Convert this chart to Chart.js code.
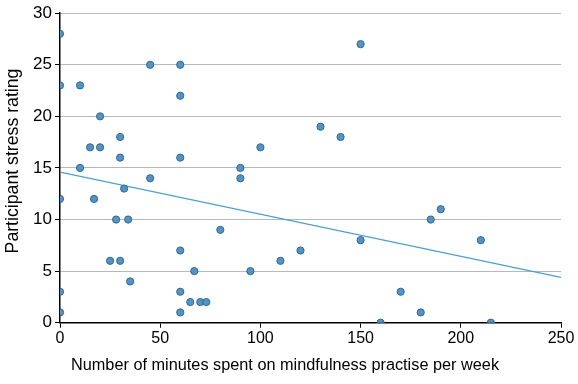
<!DOCTYPE html>
<html>
<head>
<meta charset="utf-8">
<script src="https://cdn.jsdelivr.net/npm/chart.js@4/dist/chart.umd.min.js"></script>
<style>
  html, body { margin:0; padding:0; background:#fff; }
  #wrap { width:578px; height:384px; }
</style>
</head>
<body>
<div id="wrap"><canvas id="chart" width="578" height="384"></canvas></div>
<script>
// minutes of practice per week vs stress rating
const minutes = [0,0,0,0,0, 10,10, 15,17, 20,20, 25,28,30,30,30,32,34,35, 45,45,
  60,60,60,60,60,60, 65,67,70,73, 80, 90,90, 95,100,110,120,130,140,
  150,150,160,170,180,185,190,210,215];
const stress = [28,23,12,3,1, 23,15, 17,12, 20,17, 6,10,18,16,6,13,10,4, 25,14,
  25,22,16,7,3,1, 2,5,2,2, 9, 15,14, 5,17,6,7,19,18,
  27,8,0,3,1,10,11,8,0];
// fitted line, read at the two ends of the x range
const fitX = [0, 250];
const fitY = [14.6, 4.4];

const xTicks = [0, 50, 100, 150, 200, 250];
const yTicks = [0, 5, 10, 15, 20, 25, 30];

const X_TITLE = 'Number of minutes spent on mindfulness practise per week';
const Y_TITLE = 'Participant stress rating';
const FONT = 'Arial, "Liberation Sans", sans-serif';

const pts = minutes.map((m,i)=>({x:m, y:stress[i]}));
const line = fitX.map((v,i)=>({x:v, y:fitY[i]}));

// axis titles are centred on the whole picture, not on the plot area
const titles = {
  id:'titles',
  afterDraw(chart){
    const c = chart.ctx;
    c.save();
    c.fillStyle = '#000';
    c.textAlign = 'center';
    c.textBaseline = 'middle';
    c.font = '16.3px ' + FONT;
    c.fillText(X_TITLE, 285, 366);
    c.translate(13, 161);
    c.rotate(-Math.PI/2);
    c.font = '17.7px ' + FONT;
    c.fillText(Y_TITLE, 0, 0);
    c.restore();
  }
};

new Chart(document.getElementById('chart'), {
  type:'scatter',
  data:{
    datasets:[
      {
        type:'line',
        data: line,
        borderColor:'#42a1dc',
        borderWidth:1.2,
        pointRadius:0,
        fill:false,
        order:2
      },
      {
        data: pts,
        backgroundColor:'#4a97cf',
        borderColor:'#3c6488',
        borderWidth:1,
        pointRadius:3.6,
        order:1
      }
    ]
  },
  options:{
    responsive:false,
    animation:false,
    layout:{ padding:{ left:0, right:17, top:12.7, bottom:0 } },
    plugins:{ legend:{display:false}, tooltip:{enabled:false} },
    scales:{
      x:{
        type:'linear', min:0, max:250,
        afterBuildTicks: ax => { ax.ticks = xTicks.map(v=>({value:v})); },
        afterFit: ax => { ax.height = 384 - 322.7; },
        border:{ color:'#000', width:1.5 },
        grid:{ drawOnChartArea:false, drawTicks:true, tickLength:5, color:'#000' },
        ticks:{ color:'#000', font:{ family:FONT, size:16 }, padding:1, maxRotation:0 }
      },
      y:{
        type:'linear', min:0, max:30,
        afterBuildTicks: ax => { ax.ticks = yTicks.map(v=>({value:v})); },
        afterFit: ax => { ax.width = 60; },
        border:{ color:'#000', width:1.5 },
        grid:{ color:'#b8b8b8', lineWidth:1, drawTicks:true, tickLength:5,
          tickColor:'#000' },
        ticks:{ color:'#000', font:{ family:FONT, size:17 }, padding:3 }
      }
    }
  },
  plugins:[titles]
});
</script>
</body>
</html>
